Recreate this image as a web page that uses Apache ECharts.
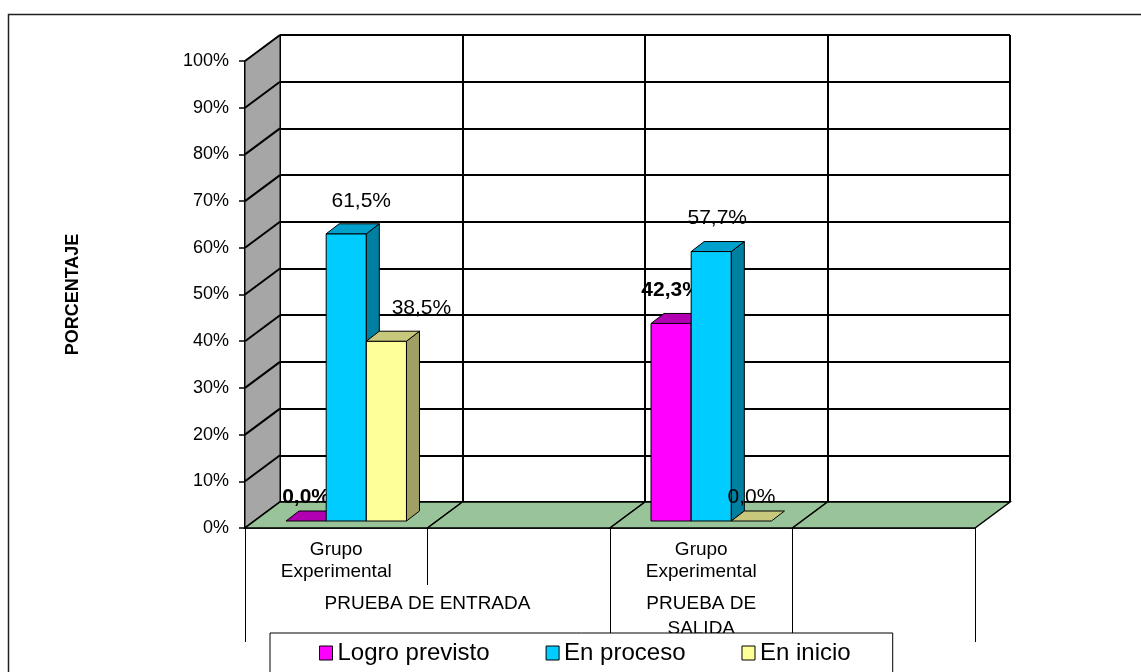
<!DOCTYPE html>
<html>
<head>
    <meta charset="utf-8">
    <title>porcentaje por grupo</title>
    <script src="https://cdn.jsdelivr.net/npm/echarts/dist/echarts.min.js"></script>
    <style>
        html, body { margin: 0; padding: 0; background: #fff; }
        #main { width: 1141px; height: 672px; }
    </style>
</head>
<body>
<div id="main"></div>
<script>
    // datos
    var categories = ['Grupo\nExperimental', '', 'Grupo\nExperimental', ''];
    var groupLabels = ['PRUEBA DE ENTRADA', 'PRUEBA DE\nSALIDA', ''];
    var groupSizes = [2, 1, 1];
    var seriesNames = ['Logro previsto', 'En proceso', 'En inicio'];
    var logroPrevisto = [0.0, null, 42.3, null];
    var enProceso = [61.5, null, 57.7, null];
    var enInicio = [38.5, null, 0.0, null];
    var yTicks = [0, 10, 20, 30, 40, 50, 60, 70, 80, 90, 100];

    // estilo
    var FONT = '"Liberation Sans", Arial, sans-serif';
    var DEPTH = [35, -26];      // profundidad de la pared / piso
    var FRONT = [10, -7];       // donde empiezan las barras dentro del piso
    var BAR_DEPTH = [13, -10];
    var faces = [
        { front: '#ff00ff', top: '#b000b0', side: '#800080' },
        { front: '#00ccff', top: '#00a0cc', side: '#0080a0' },
        { front: '#ffff99', top: '#c8c87c', side: '#a0a064' }
    ];
    var LABEL_NUDGE = { '1-0': 15, '2-0': 35, '1-2': 6 };

    var seriesValues = [logroPrevisto, enProceso, enInicio];

    function toPairs(arr) {
        var out = [];
        arr.forEach(function (v, i) {
            if (v !== null) out.push([i, v]);
        });
        return out;
    }

    // limites de los grupos del segundo nivel
    var groupBounds = [0];
    var groupCenters = [];
    groupSizes.forEach(function (n, i) {
        var start = groupBounds[groupBounds.length - 1];
        groupBounds.push(start + n);
        groupCenters.push(start + n / 2);
    });

    function sideWall(params, api) {
        var band = api.size([1, 0])[0];
        var p = api.coord([0, api.value(0)]);
        var x = p[0] - band / 2;
        var children = [];
        if (params.dataIndex === 0) {
            var lo = api.coord([0, yTicks[0]]);
            var hi = api.coord([0, yTicks[yTicks.length - 1]]);
            children.push({
                type: 'polygon',
                shape: { points: [[x, hi[1]], [x + DEPTH[0], hi[1] + DEPTH[1]], [x + DEPTH[0], lo[1] + DEPTH[1]], [x, lo[1]]] },
                style: { fill: '#a6a6a6', stroke: '#000', lineWidth: 1 }
            });
        }
        children.push({
            type: 'line',
            shape: { x1: x, y1: p[1], x2: x + DEPTH[0], y2: p[1] + DEPTH[1] },
            style: { stroke: '#000', lineWidth: 2 }
        });
        return { type: 'group', children: children };
    }

    function floorCell(params, api) {
        var band = api.size([1, 0])[0];
        var p = api.coord([api.value(0), 0]);
        var l = p[0] - band / 2, r = p[0] + band / 2, y = p[1];
        return {
            type: 'polygon',
            shape: { points: [[l, y], [r, y], [r + DEPTH[0], y + DEPTH[1]], [l + DEPTH[0], y + DEPTH[1]]] },
            style: { fill: '#99c49a', stroke: '#000', lineWidth: 1.5 }
        };
    }

    function barRenderer(si) {
        return function (params, api) {
            var ci = api.value(0), v = api.value(1);
            var band = api.size([1, 0])[0];
            var base = api.coord([ci, 0]);
            var top = api.coord([ci, v]);
            var w = band * 0.22;
            var x0 = base[0] - 1.5 * w + si * w + FRONT[0];
            var x1 = x0 + w;
            var yb = base[1] + FRONT[1];
            var yt = top[1] + FRONT[1];
            var dx = BAR_DEPTH[0], dy = BAR_DEPTH[1];
            var c = faces[si];
            var children = [];
            if (v > 0) {
                children.push({
                    type: 'rect',
                    shape: { x: x0, y: yt, width: w, height: yb - yt },
                    style: { fill: c.front, stroke: '#000', lineWidth: 1 }
                });
                children.push({
                    type: 'polygon',
                    shape: { points: [[x1, yt], [x1 + dx, yt + dy], [x1 + dx, yb + dy], [x1, yb]] },
                    style: { fill: c.side, stroke: '#000', lineWidth: 1 }
                });
            }
            children.push({
                type: 'polygon',
                shape: { points: [[x0, yt], [x1, yt], [x1 + dx, yt + dy], [x0 + dx, yt + dy]] },
                style: { fill: c.top, stroke: '#000', lineWidth: 1 }
            });
            var nudge = LABEL_NUDGE[si + '-' + ci] || 0;
            children.push({
                type: 'text',
                style: {
                    x: x0 + w / 2 + nudge,
                    y: yt - (v > 0 ? 33 : 24),
                    text: v.toFixed(1).replace('.', ',') + '%',
                    fill: '#000',
                    font: (si === 0 ? 'bold ' : '') + '21px ' + FONT,
                    align: 'center',
                    verticalAlign: 'middle'
                }
            });
            return { type: 'group', children: children };
        };
    }

    var myChart = echarts.init(document.getElementById('main'));

    var series = [
        {
            type: 'custom', name: 'pared', xAxisIndex: 0, yAxisIndex: 0,
            renderItem: sideWall, data: yTicks.map(function (t) { return [t]; }),
            encode: { y: 0 }, silent: true
        },
        {
            type: 'custom', name: 'piso', xAxisIndex: 0, yAxisIndex: 0,
            renderItem: floorCell, data: categories.map(function (c, i) { return [i]; }),
            encode: { x: 0 }, silent: true
        }
    ];
    seriesNames.forEach(function (name, si) {
        series.push({
            type: 'custom',
            name: name,
            xAxisIndex: 0, yAxisIndex: 0,
            itemStyle: { color: faces[si].front },
            renderItem: barRenderer(si),
            data: toPairs(seriesValues[si]),
            encode: { x: 0, y: 1 }
        });
    });

    var option = {
        backgroundColor: '#fff',
        animation: false,
        textStyle: { fontFamily: FONT, color: '#000' },
        graphic: [{
            type: 'rect', z: -10,
            shape: { x: 8.5, y: 14.5, width: 1200, height: 700 },
            style: { fill: 'none', stroke: '#222', lineWidth: 1.5 }
        }],
        legend: {
            data: seriesNames,
            left: 270, top: 633,
            orient: 'horizontal',
            padding: [8, 42, 30, 49],
            itemGap: 56,
            itemWidth: 13, itemHeight: 14,
            icon: 'rect',
            itemStyle: { borderColor: '#000', borderWidth: 1 },
            backgroundColor: '#fff',
            borderColor: '#000', borderWidth: 1,
            textStyle: { fontSize: 24, color: '#000', fontFamily: FONT },
            selectedMode: false,
            z: 10
        },
        grid: [
            { left: 245, top: 61, width: 730, height: 467 },
            { left: 280, top: 35, width: 730, height: 467 }
        ],
        xAxis: [
            {
                type: 'category', gridIndex: 0, data: categories,
                axisLine: { show: true, lineStyle: { color: '#000', width: 1.5 } },
                axisTick: { show: true, interval: 0, length: 57, lineStyle: { color: '#000', width: 1 } },
                axisLabel: { interval: 0, fontSize: 19, lineHeight: 22, margin: 11, color: '#000', fontFamily: FONT },
                splitLine: { show: false }
            },
            {
                type: 'value', gridIndex: 0, min: 0, max: categories.length, position: 'bottom', offset: 0,
                axisLine: { show: false },
                axisTick: { show: true, customValues: groupBounds, length: 114, lineStyle: { color: '#000', width: 1 } },
                axisLabel: {
                    customValues: groupCenters, fontSize: 19, lineHeight: 25, margin: 63,
                    color: '#000', fontFamily: FONT, verticalAlign: 'top',
                    formatter: function (val) {
                        var i = groupCenters.indexOf(val);
                        return i >= 0 ? groupLabels[i] : '';
                    }
                },
                splitLine: { show: false }
            },
            {
                type: 'category', gridIndex: 1, data: categories,
                axisLine: { show: false }, axisTick: { show: false }, axisLabel: { show: false },
                splitLine: { show: true, interval: 0, lineStyle: { color: '#000', width: 2 } }
            }
        ],
        yAxis: [
            {
                type: 'value', gridIndex: 0, min: 0, max: 100, interval: 10,
                name: 'PORCENTAJE', nameLocation: 'middle', nameGap: 163, nameRotate: 90,
                nameTextStyle: { fontWeight: 'bold', fontSize: 18, color: '#000', fontFamily: FONT },
                axisLine: { show: true, lineStyle: { color: '#000', width: 2 } },
                axisTick: { show: true, length: 6, lineStyle: { color: '#000', width: 1.5 } },
                axisLabel: { formatter: '{value}%', fontSize: 18, margin: 16, color: '#000', fontFamily: FONT },
                splitLine: { show: false }
            },
            {
                type: 'value', gridIndex: 1, min: 0, max: 100, interval: 10,
                axisLine: { show: false }, axisTick: { show: false }, axisLabel: { show: false },
                splitLine: { show: true, lineStyle: { color: '#000', width: 2 } }
            }
        ],
        series: series
    };

    myChart.setOption(option);
</script>
</body>
</html>
